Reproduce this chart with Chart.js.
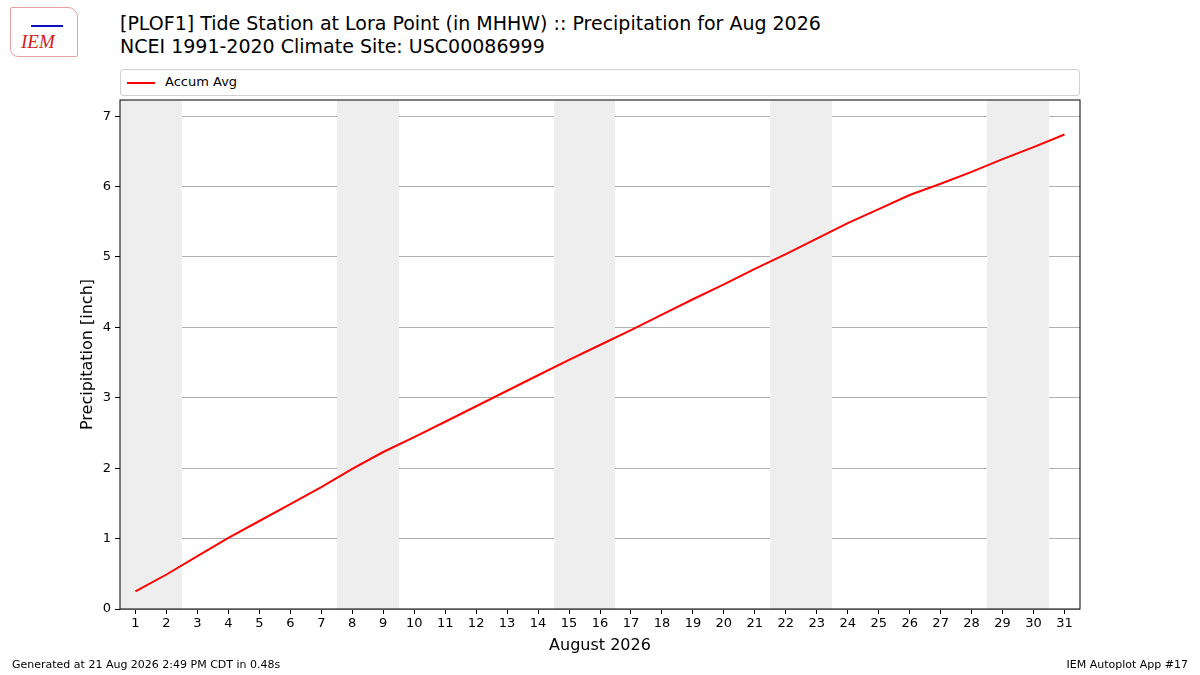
<!DOCTYPE html>
<html>
<head>
<meta charset="utf-8">
<script src="https://cdn.jsdelivr.net/npm/chart.js@4/dist/chart.umd.min.js"></script>
<style>
  html, body { margin: 0; padding: 0; background: #fff; }
  body { width: 1200px; height: 675px; position: relative; overflow: hidden; font-family: "DejaVu Sans", sans-serif; color: #000; }
  #chart { position: absolute; left: 0; top: 0; }
  .title { position: absolute; left: 120px; top: 12px; font-size: 19px; line-height: 23px; white-space: nowrap; }
  .legend { position: absolute; left: 120px; top: 69px; width: 958px; height: 25px; border: 1px solid #d0d0d0; border-radius: 3px; box-sizing: content-box; }
  .legend .swatch { position: absolute; left: 6px; top: 12px; width: 28px; height: 2px; background: #ff0000; }
  .legend .label { position: absolute; left: 44px; top: 4px; font-size: 13px; }
  .footer { position: absolute; top: 658px; font-size: 11px; white-space: nowrap; }
  .logo { position: absolute; left: 10px; top: 7px; width: 66px; height: 48px; border: 1px solid #e8a0a0; border-radius: 2px 10px 2px 8px; }
  .logo .iem { position: absolute; left: 10px; top: 23px; font-family: "Liberation Serif", serif; font-style: italic; font-size: 19px; color: #d42020; }
  .logo .mark { position: absolute; left: 20px; top: 17px; width: 32px; height: 2px; background: #1010c0; }
</style>
</head>
<body>
<div class="logo"><div class="mark"></div><div class="iem">IEM</div></div>
<div class="title">[PLOF1] Tide Station at Lora Point (in MHHW) :: Precipitation for Aug 2026<br>NCEI 1991-2020 Climate Site: USC00086999</div>
<div class="legend"><div class="swatch"></div><div class="label">Accum Avg</div></div>
<canvas id="chart" width="1200" height="675"></canvas>
<div class="footer" style="left:12px;">Generated at 21 Aug 2026 2:49 PM CDT in 0.48s</div>
<div class="footer" style="right:12px;">IEM Autoplot App #17</div>
<script>
// days of Aug 2026 and the accumulated average precipitation (inch)
const days = [1, 2, 3, 4, 5, 6, 7, 8, 9, 10, 11, 12, 13, 14, 15, 16, 17, 18, 19, 20, 21, 22, 23, 24, 25, 26, 27, 28, 29, 30, 31];
const accumAvg = [0.25, 0.49, 0.75, 1.01, 1.25, 1.49, 1.73, 1.99, 2.23, 2.44, 2.66, 2.88, 3.10, 3.32, 3.54, 3.75,
                  3.96, 4.18, 4.40, 4.61, 4.83, 5.04, 5.26, 5.48, 5.68, 5.88, 6.04, 6.21, 6.39, 6.56, 6.74];
const weekendDays = [1, 2, 8, 9, 15, 16, 22, 23, 29, 30];
const yTicks = [0, 1, 2, 3, 4, 5, 6, 7];

const PLOT_LEFT = 120, PLOT_RIGHT = 1080, PLOT_TOP = 100, PLOT_BOTTOM = 607;

// grey bands behind weekends, black frame round the plot
const framePlugin = {
    id: 'frame',
    beforeDatasetsDraw(chart) {
        const {ctx, chartArea, scales: {x}} = chart;
        // merge neighbouring weekend days so there is no seam between them
        const spans = [];
        weekendDays.forEach(d => {
            const last = spans[spans.length - 1];
            if (last && last[1] === d - 1) last[1] = d;
            else spans.push([d, d]);
        });
        ctx.save();
        ctx.fillStyle = '#eeeeee';
        spans.forEach(([a, b]) => {
            const x0 = Math.round(x.getPixelForValue(a - 0.5));
            const x1 = Math.round(x.getPixelForValue(b + 0.5));
            ctx.fillRect(x0, chartArea.top, x1 - x0, chartArea.bottom - chartArea.top);
        });
        ctx.restore();
    },
    afterDraw(chart) {
        const {ctx, chartArea} = chart;
        ctx.save();
        ctx.strokeStyle = '#000';
        ctx.lineWidth = 1;
        ctx.strokeRect(chartArea.left, chartArea.top, chartArea.right - chartArea.left, chartArea.bottom - chartArea.top);
        ctx.restore();
    }
};

new Chart(document.getElementById('chart').getContext('2d'), {
    type: 'line',
    data: {
        datasets: [{
            label: 'Accum Avg',
            data: days.map((d, i) => ({x: d, y: accumAvg[i]})),
            borderColor: '#ff0000',
            borderWidth: 2,
            pointRadius: 0,
            fill: false,
            tension: 0
        }]
    },
    options: {
        responsive: false,
        animation: false,
        layout: {padding: {left: 0, top: PLOT_TOP, right: 1200 - PLOT_RIGHT, bottom: 0}},
        plugins: {legend: {display: false}, title: {display: false}, tooltip: {enabled: false}},
        scales: {
            x: {
                type: 'linear',
                min: 0.5,
                max: 31.5,
                afterBuildTicks: scale => { scale.ticks = days.map(v => ({value: v})); },
                afterFit: scale => { scale.height = 675 - PLOT_BOTTOM - 2; },
                ticks: {color: '#000', font: {family: 'DejaVu Sans', size: 13}, padding: 2, maxRotation: 0, autoSkip: false},
                grid: {drawOnChartArea: false, color: '#000', tickLength: 5},
                border: {display: false},
                title: {display: true, text: 'August 2026', color: '#000', font: {family: 'DejaVu Sans', size: 16}, padding: {top: 0, bottom: 20}}
            },
            y: {
                min: 0,
                max: 7.23,
                afterBuildTicks: scale => { scale.ticks = yTicks.map(v => ({value: v})); },
                afterFit: scale => { scale.width = PLOT_LEFT; },
                ticks: {color: '#000', font: {family: 'DejaVu Sans', size: 13}, padding: 4},
                grid: {color: '#b0b0b0', tickColor: '#000', tickLength: 5, lineWidth: 1},
                border: {display: false},
                title: {display: true, text: 'Precipitation [inch]', color: '#000', font: {family: 'DejaVu Sans', size: 16}, padding: {top: 78, bottom: 0}}
            }
        }
    },
    plugins: [framePlugin]
});
</script>
</body>
</html>
